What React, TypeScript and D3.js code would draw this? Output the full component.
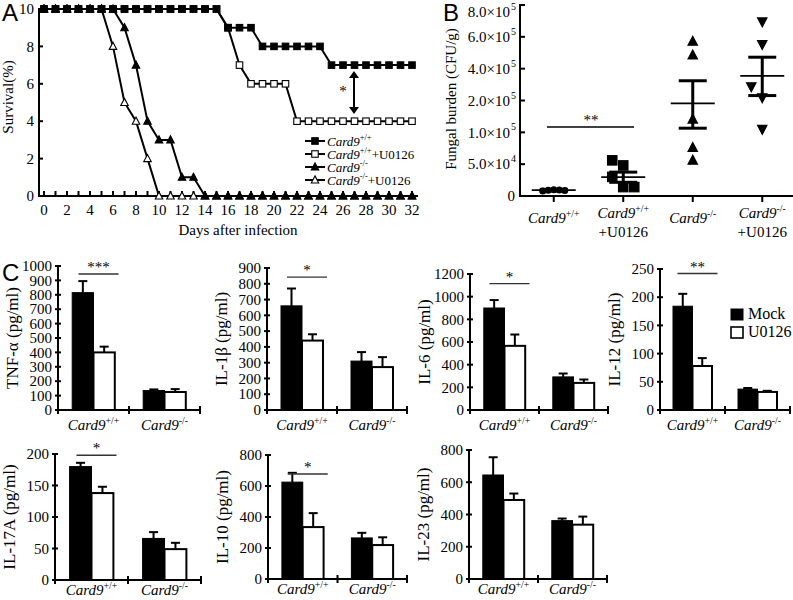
import * as d3 from "d3";

// ---- Panel A: survivors (of 10) per day, index = day after infection
const survWT = [10, 10, 10, 10, 10, 10, 10, 10, 10, 10, 10, 10, 10, 10, 10, 10, 9, 9, 9, 8, 8, 8, 8, 8, 8, 7, 7, 7, 7, 7, 7, 7, 7];
const survWTU0126 = [10, 10, 10, 10, 10, 10, 10, 10, 10, 10, 10, 10, 10, 10, 10, 10, 9, 7, 6, 6, 6, 6, 4, 4, 4, 4, 4, 4, 4, 4, 4, 4, 4];
const survKO = [10, 10, 10, 10, 10, 10, 10, 9, 7, 4, 3, 3, 1, 1, 0, 0, 0, 0, 0, 0, 0, 0, 0, 0, 0, 0, 0, 0, 0, 0, 0, 0, 0];
const survKOU0126 = [10, 10, 10, 10, 10, 10, 8, 5, 4, 2, 0, 0, 0, 0, 0, 0, 0, 0, 0, 0, 0, 0, 0, 0, 0, 0, 0, 0, 0, 0, 0, 0, 0];
const survYTicks = [0, 2, 4, 6, 8, 10];
const survXLabels = [0, 2, 4, 6, 8, 10, 12, 14, 16, 18, 20, 22, 24, 26, 28, 30, 32];

// ---- Panel B: fungal burden (CFU/g)
const fungalSup = ["+/+", "+/+", "-/-", "-/-"];
const fungalSuffix = ["", "+U0126", "", "+U0126"];
const fungalWT = [8000, 9000, 10000, 9500, 8500];
const fungalWTU0126 = [56000, 48000, 30000, 14000, 14000];
const fungalKO = [571000, 485000, 141000, 76000, 56000];
const fungalKOU0126 = [695000, 553000, 287000, 219000, 110000];
const fungalSlots = [[-2, -1, 0, 1, 2], [-1, 0, -1, 0, 1], [0, 0, 0, 0, 0], [0, 0, -1, 0, 0]];
const fungalMean = [9300, 29500, 191000, 355000];
const fungalSemLow = [8200, 21500, 113000, 231000];
const fungalSemHigh = [10500, 37500, 324000, 472000];
const fungalTicks = [0, 50000, 100000, 200000, 400000, 600000, 800000];
const fungalTickMant = ["0", "5.0", "1.0", "2.0", "4.0", "6.0", "8.0"];
const fungalTickExp = ["", "4", "5", "5", "5", "5", "5"];

// ---- Panel C: cytokines (pg/ml), [Card9+/+, Card9-/-]
const cytokines = ["TNF-α", "IL-1β", "IL-6", "IL-12", "IL-17A", "IL-10", "IL-23"];
const genotypes = ["+/+", "-/-"];
const mockMean = [[815, 135], [660, 310], [900, 292], [184, 37], [180, 66], [625, 265], [645, 362]];
const mockSem = [[80, 8], [110, 57], [70, 30], [22, 2], [6, 10], [60, 33], [110, 13]];
const u0126Mean = [[400, 125], [440, 272], [566, 239], [78, 32], [138, 49], [335, 219], [490, 337]];
const u0126Sem = [[40, 20], [40, 63], [100, 30], [14, 2], [10, 10], [90, 50], [40, 50]];
const cytoMax = [1000, 900, 1200, 250, 200, 800, 800];
const cytoStep = [100, 100, 200, 50, 50, 200, 200];
const cytoStars = ["***", "*", "*", "**", "*", "*", ""];
const cytoStarLevel = [944, 842, 1115, 242, 198, 677, 0];

// layout of the seven bar panels
const cLayout = [
  { left: 58, right: 200, top: 266, bottom: 410, labelGap: 20 },
  { left: 267, right: 407, top: 268, bottom: 410, labelGap: 20 },
  { left: 470, right: 608, top: 274, bottom: 410, labelGap: 20 },
  { left: 660, right: 790, top: 269, bottom: 410, labelGap: 20 },
  { left: 55, right: 201, top: 454, bottom: 580, labelGap: 15 },
  { left: 268, right: 407, top: 455, bottom: 579, labelGap: 15 },
  { left: 469, right: 607, top: 450, bottom: 579, labelGap: 15 },
];

const serif = "'Liberation Serif', 'Times New Roman', serif";
const sans = "'Liberation Sans', Arial, sans-serif";

function Marker({ shape, filled, x, y, s }: any) {
  const fill = filled ? "#000" : "#fff";
  const sw = 1.1;
  if (shape === "square")
    return <rect x={x - s / 2} y={y - s / 2} width={s} height={s} fill={fill} stroke="#000" strokeWidth={sw} />;
  if (shape === "up")
    return <path d={`M${x},${y - s * 0.55}L${x + s / 2},${y + s * 0.4}L${x - s / 2},${y + s * 0.4}Z`} fill={fill} stroke="#000" strokeWidth={sw} />;
  if (shape === "down")
    return <path d={`M${x},${y + s * 0.55}L${x + s / 2},${y - s * 0.4}L${x - s / 2},${y - s * 0.4}Z`} fill={fill} stroke="#000" strokeWidth={sw} />;
  return <circle cx={x} cy={y} r={s / 2} fill={fill} />;
}

function Geno({ x, y, sup, suffix, size, anchor }: any) {
  return (
    <text x={x} y={y} fontSize={size} textAnchor={anchor || "middle"} fontFamily={serif}>
      <tspan fontStyle="italic">Card9</tspan>
      <tspan fontSize={size * 0.65} dy={-size * 0.4}>{sup}</tspan>
      {suffix ? <tspan dy={size * 0.4}>{suffix}</tspan> : null}
    </text>
  );
}

function PanelA() {
  const x = d3.scaleLinear().domain([0, 32]).range([44, 412]);
  const y = d3.scaleLinear().domain([0, 10]).range([196, 9]);
  const line = d3.line<number>().x((_, i) => x(i)).y((d) => y(d));
  const series = [
    { data: survKOU0126, shape: "up", filled: false, sup: "-/-", suffix: "+U0126" },
    { data: survKO, shape: "up", filled: true, sup: "-/-", suffix: "" },
    { data: survWTU0126, shape: "square", filled: false, sup: "+/+", suffix: "+U0126" },
    { data: survWT, shape: "square", filled: true, sup: "+/+", suffix: "" },
  ];
  const legend = [series[3], series[2], series[1], series[0]];
  return (
    <g>
      <text x={2} y={21} fontSize={24} fontFamily={sans}>A</text>
      <line x1={39} x2={39} y1={8} y2={197} stroke="#000" strokeWidth={2} />
      <line x1={38} x2={418} y1={196} y2={196} stroke="#000" strokeWidth={2} />
      {survYTicks.map((t) => (
        <g key={t}>
          <line x1={39} x2={43} y1={y(t)} y2={y(t)} stroke="#000" strokeWidth={2} />
          <text x={34} y={y(t)} dy="0.35em" textAnchor="end" fontSize={15} fontFamily={serif}>{t}</text>
        </g>
      ))}
      {survWT.map((_, i) => (
        <line key={i} x1={x(i)} x2={x(i)} y1={196} y2={191} stroke="#000" strokeWidth={2} />
      ))}
      {survXLabels.map((t) => (
        <text key={t} x={x(t)} y={215} textAnchor="middle" fontSize={15} fontFamily={serif}>{t}</text>
      ))}
      <text x={238} y={235} textAnchor="middle" fontSize={15} fontFamily={serif}>Days after infection</text>
      <text transform="translate(13,97) rotate(-90)" textAnchor="middle" fontSize={15} fontFamily={serif}>Survival(%)</text>
      {series.map((s, k) => (
        <g key={k}>
          <path d={line(s.data) || ""} fill="none" stroke="#000" strokeWidth={2} />
          {s.data.map((v, i) => (
            <Marker key={i} shape={s.shape} filled={s.filled} x={x(i)} y={y(v)} s={s.shape === "square" ? 6.5 : 7.5} />
          ))}
        </g>
      ))}
      {/* significance arrow */}
      <line x1={354} x2={354} y1={76} y2={109} stroke="#000" strokeWidth={2} />
      <path d="M349,78L354,71L359,78Z" fill="#000" />
      <path d="M349,107L354,114L359,107Z" fill="#000" />
      <text x={343} y={96} textAnchor="middle" fontSize={15} fontFamily={serif}>*</text>
      {legend.map((s, k) => {
        const ly = 141 + k * 13;
        return (
          <g key={k}>
            <line x1={305} x2={325} y1={ly} y2={ly} stroke="#000" strokeWidth={2} />
            <Marker shape={s.shape} filled={s.filled} x={315} y={ly} s={s.shape === "square" ? 6.5 : 7.5} />
            <Geno x={327} y={ly + 4.5} sup={s.sup} suffix={s.suffix} size={13} anchor="start" />
          </g>
        );
      })}
    </g>
  );
}

function PanelB() {
  const y = d3
    .scaleLinear()
    .domain(fungalTicks)
    .range(fungalTicks.map((_, i) => 196 - (i * 191) / 6));
  const x = d3.scaleBand().domain(["0", "1", "2", "3"]).range([519, 797]);
  const groups = [fungalWT, fungalWTU0126, fungalKO, fungalKOU0126];
  const shapes = ["circle", "square", "up", "down"];
  const slotW = [5.5, 11, 11, 11];
  return (
    <g>
      <text x={443} y={21} fontSize={24} fontFamily={sans}>B</text>
      <line x1={520} x2={520} y1={4} y2={197} stroke="#000" strokeWidth={2} />
      <line x1={519} x2={793} y1={196} y2={196} stroke="#000" strokeWidth={2} />
      {fungalTicks.map((t, i) => {
        const ty = Math.max(y(t), 12);
        return (
          <g key={t}>
            <line x1={520} x2={525} y1={y(t)} y2={y(t)} stroke="#000" strokeWidth={2} />
            <text x={fungalTickExp[i] ? 510 : 515} y={ty} dy="0.35em" textAnchor="end" fontSize={15} fontFamily={serif}>
              {fungalTickMant[i]}
              {fungalTickExp[i] ? "×10" : ""}
            </text>
            {fungalTickExp[i] ? (
              <text x={511} y={ty - 2} textAnchor="start" fontSize={10} fontFamily={serif}>{fungalTickExp[i]}</text>
            ) : null}
          </g>
        );
      })}
      <text transform="translate(456,99) rotate(-90)" textAnchor="middle" fontSize={15} fontFamily={serif}>Fungal burden (CFU/g)</text>
      {groups.map((g, gi) => {
        const cx = (x(String(gi)) || 0) + x.bandwidth() / 2;
        return (
          <g key={gi}>
            <line x1={cx} x2={cx} y1={196} y2={202} stroke="#000" strokeWidth={2} />
            {g.map((v, i) => (
              <Marker key={i} shape={shapes[gi]} filled x={cx + fungalSlots[gi][i] * slotW[gi]} y={y(v)} s={gi === 0 ? 7 : 9.5} />
            ))}
            <line x1={cx} x2={cx} y1={y(fungalSemLow[gi])} y2={y(fungalSemHigh[gi])} stroke="#000" strokeWidth={3} />
            <line x1={cx - 14} x2={cx + 14} y1={y(fungalSemLow[gi])} y2={y(fungalSemLow[gi])} stroke="#000" strokeWidth={3} />
            <line x1={cx - 14} x2={cx + 14} y1={y(fungalSemHigh[gi])} y2={y(fungalSemHigh[gi])} stroke="#000" strokeWidth={3} />
            <line x1={cx - 22} x2={cx + 22} y1={y(fungalMean[gi])} y2={y(fungalMean[gi])} stroke="#000" strokeWidth={1.8} />
            {fungalSuffix[gi] ? (
              <>
                <Geno x={cx} y={218} sup={fungalSup[gi]} size={15} />
                <text x={cx} y={237} textAnchor="middle" fontSize={15} fontFamily={serif}>{fungalSuffix[gi]}</text>
              </>
            ) : (
              <Geno x={cx} y={223} sup={fungalSup[gi]} size={15} />
            )}
          </g>
        );
      })}
      <line x1={547} x2={634} y1={127} y2={127} stroke="#000" strokeWidth={1.6} />
      <text x={591} y={125} textAnchor="middle" fontSize={15} fontFamily={serif}>**</text>
    </g>
  );
}

function BarPanel({ k }: { k: number }) {
  const { left, right, top, bottom, labelGap } = cLayout[k];
  const x = d3.scaleBand().domain(genotypes).range([left, right]);
  const y = d3.scaleLinear().domain([0, cytoMax[k]]).range([bottom, top]);
  const ticks = d3.range(0, cytoMax[k] + cytoStep[k] / 2, cytoStep[k]);
  const bw = x.bandwidth();
  const barW = bw * 0.3;
  const treatments = [
    { mean: mockMean[k], sem: mockSem[k], fill: "#000" },
    { mean: u0126Mean[k], sem: u0126Sem[k], fill: "#fff" },
  ];
  const c0 = (x(genotypes[0]) || 0) + bw / 2;
  return (
    <g>
      <line x1={left} x2={left} y1={top} y2={bottom + 1} stroke="#000" strokeWidth={2} />
      <line x1={left} x2={right} y1={bottom} y2={bottom} stroke="#000" strokeWidth={2} />
      {ticks.map((t) => (
        <g key={t}>
          <line x1={left - 3} x2={left + 3} y1={y(t)} y2={y(t)} stroke="#000" strokeWidth={2} />
          <text x={left - 6} y={y(t)} dy="0.35em" textAnchor="end" fontSize={15} fontFamily={serif}>{t}</text>
        </g>
      ))}
      {[left, left + bw, right].map((tx, i) => (
        <line key={i} x1={tx} x2={tx} y1={bottom - 4} y2={bottom + 4} stroke="#000" strokeWidth={2} />
      ))}
      <text transform={`translate(${left - 46},${(top + bottom) / 2}) rotate(-90)`} dy="0.35em" textAnchor="middle" fontSize={17} fontFamily={serif}>
        {cytokines[k]} (pg/ml)
      </text>
      {genotypes.map((g, gi) => {
        const cx = (x(g) || 0) + bw / 2;
        return (
          <g key={g}>
            {treatments.map((tr, ti) => {
              const bx = cx - barW + ti * barW;
              const v = tr.mean[gi];
              const e = tr.sem[gi];
              return (
                <g key={ti}>
                  <line x1={bx + barW / 2} x2={bx + barW / 2} y1={y(v)} y2={y(v + e)} stroke="#000" strokeWidth={2} />
                  <line x1={bx + barW / 2 - 4.5} x2={bx + barW / 2 + 4.5} y1={y(v + e)} y2={y(v + e)} stroke="#000" strokeWidth={2} />
                  <rect x={bx} y={y(v)} width={barW} height={bottom - y(v)} fill={tr.fill} stroke="#000" strokeWidth={ti === 0 ? 1 : 2} />
                </g>
              );
            })}
            <Geno x={cx} y={bottom + labelGap} sup={g} size={15} />
          </g>
        );
      })}
      {cytoStars[k] ? (
        <g>
          <line x1={c0 - 15} x2={c0 + 25} y1={y(cytoStarLevel[k])} y2={y(cytoStarLevel[k])} stroke="#333" strokeWidth={1.4} />
          <text x={c0 + 5} y={y(cytoStarLevel[k]) - 2} textAnchor="middle" fontSize={15} fontFamily={serif}>{cytoStars[k]}</text>
        </g>
      ) : null}
    </g>
  );
}

export default function App() {
  return (
    <svg width={793} height={600} style={{ position: "absolute", left: 0, top: 0, background: "#fff" }}>
      <rect width={793} height={600} fill="#fff" />
      <PanelA />
      <PanelB />
      <text x={2} y={281} fontSize={24} fontFamily={sans}>C</text>
      {cytokines.map((_, k) => (
        <BarPanel key={k} k={k} />
      ))}
      <rect x={731} y={309} width={12} height={11} fill="#000" stroke="#000" />
      <text x={748} y={319} fontSize={16} fontFamily={serif}>Mock</text>
      <rect x={731} y={327} width={12} height={11} fill="#fff" stroke="#000" strokeWidth={1.6} />
      <text x={748} y={337} fontSize={16} fontFamily={serif}>U0126</text>
    </svg>
  );
}
